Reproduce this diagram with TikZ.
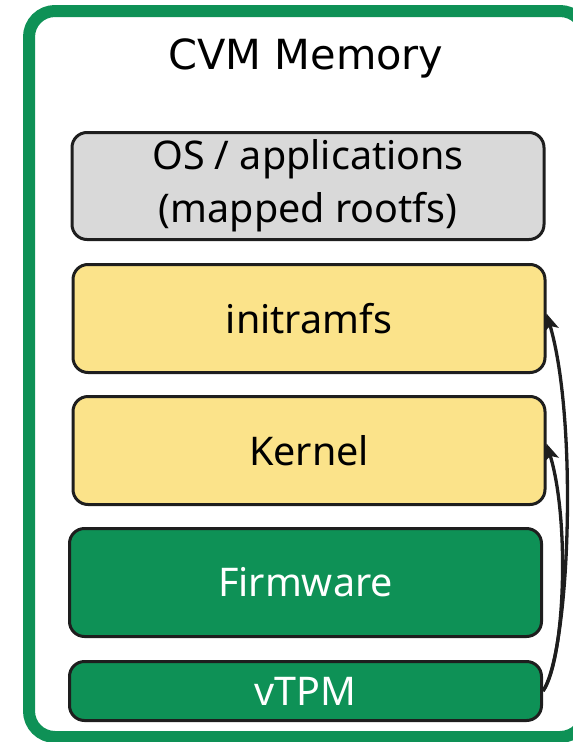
\documentclass[tikz,border=0pt]{standalone}
\usepackage{fontspec}
\setmainfont{Noto Sans}
\newfontfamily\titlefont{DejaVu Sans}
\usetikzlibrary{arrows.meta}
\definecolor{cvmgreen}{RGB}{14,145,86}
\definecolor{layeryellow}{RGB}{251,227,138}
\definecolor{layergray}{RGB}{217,217,217}
\definecolor{edgedark}{RGB}{30,30,30}
\tikzset{
  layer/.style={draw=edgedark, line width=3pt, rounded corners=15pt,
    inner sep=0pt, minimum width=472pt, align=center,
    font=\fontsize{39.5}{53}\selectfont},
  lightlayer/.style={layer, text=black},
  darklayer/.style={layer, fill=cvmgreen, text=white},
  measure/.style={draw=edgedark, line width=3.3pt,
    -{Stealth[length=17pt,width=15pt,inset=4pt]}}
}
\begin{document}
\begin{tikzpicture}[x=1pt,y=-1pt]
  \useasboundingbox (0,0) rectangle (573,742);
  \begin{scope}
    \clip (0,0) rectangle (573,742);
    % outer memory frame
    \draw[cvmgreen, line width=12pt, rounded corners=26pt]
      (29,11) rectangle (586,737);
  \end{scope}
  \node[font=\titlefont\fontsize{41.5}{48}\selectfont] (title) at (306,58) {CVM Memory};

  \node[lightlayer, fill=layergray, minimum height=107pt] (os) at (308,186)
    {OS / applications\\(mapped rootfs)};
  \node[lightlayer, fill=layeryellow, minimum height=108pt] (initrd) at (309,318.5) {initramfs};
  \node[lightlayer, fill=layeryellow, minimum height=108pt] (kernel) at (309,450.5) {Kernel};
  \node[darklayer, minimum height=108pt] (fw) at (305.5,582.5) {Firmware};
  \node[darklayer, minimum height=59pt] (vtpm) at (305.5,691) {vTPM};

  % measurement chain from the vTPM
  \draw[measure] (vtpm.east) .. controls (570,650) and (578,420) .. ([yshift=5pt]initrd.east);
  \draw[measure] (vtpm.east) .. controls (565,660) and (570,520) .. ([yshift=7pt]kernel.east);
\end{tikzpicture}
\end{document}
